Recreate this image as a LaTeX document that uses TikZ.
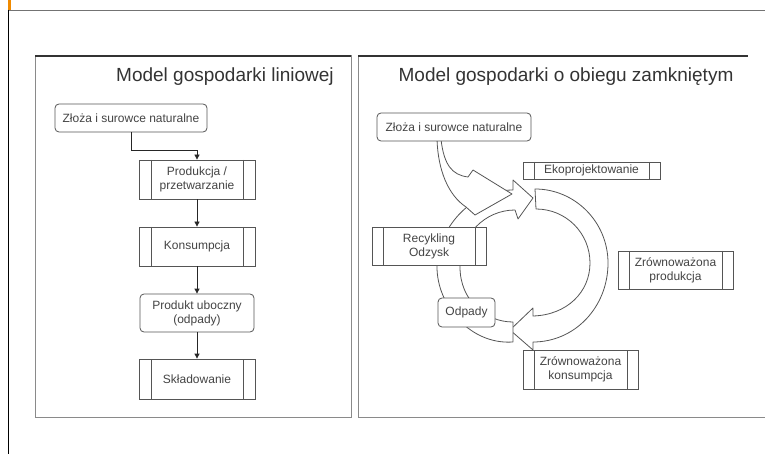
\documentclass[tikz,border=0pt]{standalone}
\usepackage{fontspec}
\setmainfont{Liberation Sans}
\usetikzlibrary{arrows.meta}
\pgfdeclarelayer{background}
\pgfsetlayers{background,main}
\definecolor{bordc}{HTML}{555555}
\definecolor{txtc}{HTML}{444444}
\definecolor{panelc}{HTML}{8A8A8A}
\definecolor{topc}{HTML}{333333}
\definecolor{barc}{HTML}{F08A00}
\begin{document}
\begin{tikzpicture}[x=1pt,y=1pt,
  box/.style={draw=bordc, line width=0.8pt, fill=white, inner sep=0pt,
    font=\fontsize{12}{14}\selectfont, text=txtc, align=center},
  rbox/.style={box, rounded corners=4pt},
  procbox/.style={box, path picture={\draw[bordc, line width=0.8pt]
    ([xshift=#1]path picture bounding box.north west) -- ([xshift=#1]path picture bounding box.south west)
    ([xshift=-#1]path picture bounding box.north east) -- ([xshift=-#1]path picture bounding box.south east);}},
  procbox/.default=12pt,
  link/.style={draw=black!85, line width=0.8pt, -{Triangle[length=5pt,width=5pt]}},
  flow/.style={draw=bordc, line width=0.8pt, fill=white, line join=round},
  title/.style={font=\fontsize{19}{22}\selectfont, text=topc, inner sep=0pt, anchor=base},
]
\useasboundingbox (0,0) rectangle (765,-454);
% page decoration
\fill[barc] (8,0) rectangle (11,-10);
\draw[black!55, line width=1.5pt] (8,-10.5) -- (765,-10.5);
\draw[black, line width=1pt] (8.5,-10) -- (8.5,-454);
% panels
\draw[panelc, line width=1pt] (35,-56) rectangle (351,-417);
\draw[topc, line width=1.5pt] (35,-56) -- (351,-56);
\draw[panelc, line width=1pt] (748,-56) -- (358,-56) -- (358,-417) -- (765,-417);
\draw[topc, line width=1.5pt] (358,-56) -- (748,-56);
% titles
\node[title] (t1) at (225,-82) {Model gospodarki liniowej};
\node[title] (t2) at (566,-82) {Model gospodarki o obiegu zamkniętym};
% left model
\node[rbox, minimum width=152pt, minimum height=28pt] (zl1) at (131,-118) {Złoża i surowce naturalne};
\node[procbox, minimum width=116pt, minimum height=39pt] (prod) at (197,-179.5) {Produkcja /\\przetwarzanie};
\node[procbox, minimum width=116pt, minimum height=39pt] (kons) at (197,-246.5) {Konsumpcja};
\node[rbox, minimum width=114pt, minimum height=38pt] (odp1) at (197,-313) {Produkt uboczny\\(odpady)};
\node[procbox, minimum width=116pt, minimum height=40pt] (skl) at (197,-379) {Składowanie};
\coordinate (bend) at (197,-150);
\draw[link] (zl1.south) |- (bend) -- (prod.north);
\draw[link] (prod) -- (kons);
\draw[link] (kons) -- (odp1);
\draw[link] (odp1) -- (skl);
% right model
\node[rbox, minimum width=154pt, minimum height=28pt] (zl2) at (454,-127) {Złoża i surowce naturalne};
\node[procbox=11pt, minimum width=137pt, minimum height=17pt] (eko) at (591.5,-170.5) {Ekoprojektowanie};
\node[procbox=11pt, minimum width=114pt, minimum height=38pt] (recy) at (429,-246) {Recykling\\Odzysk};
\node[procbox=11pt, minimum width=115pt, minimum height=38pt] (zprod) at (675.5,-270) {Zrównoważona\\produkcja};
\node[rbox, minimum width=57pt, minimum height=29pt] (odp2) at (466.5,-312.5) {Odpady};
\node[procbox=11pt, minimum width=115pt, minimum height=39pt] (zkons) at (580.5,-369.5) {Zrównoważona\\konsumpcja};
\begin{pgfonlayer}{background}
% right arc arrow (clockwise, from top to bottom)
\path[flow] (535,-189) .. controls (575,-189) and (608,-222) .. (608,-263)
  .. controls (608,-307) and (575,-342) .. (533,-342) -- (533,-350) -- (510,-330) -- (533,-308) -- (533,-316)
  .. controls (567,-315) and (590,-292) .. (590,-263)
  .. controls (590,-233) and (566,-209) .. (536,-209) -- cycle;
% left arc arrow (clockwise, from bottom to top)
\path[flow] (513,-342) .. controls (470,-345) and (437,-305) .. (437,-267)
  .. controls (437,-230) and (470,-190) .. (513,-190) -- (513,-180) -- (533,-198) -- (518,-219) -- (515,-210)
  .. controls (485,-210) and (460,-235) .. (460,-267)
  .. controls (460,-300) and (485,-322) .. (513,-322) -- cycle;
% arrow from the natural resources into the cycle
\path[flow] ([xshift=-13pt,yshift=2pt]zl2.south) .. controls (444,-165) and (452,-175) .. (468,-177)
  -- (473,-170) -- (512,-194) -- (475,-215) -- (466,-207)
  .. controls (448,-195) and (438,-170) .. ([xshift=-17pt,yshift=2pt]zl2.south) -- cycle;
\end{pgfonlayer}
\end{tikzpicture}
\end{document}
